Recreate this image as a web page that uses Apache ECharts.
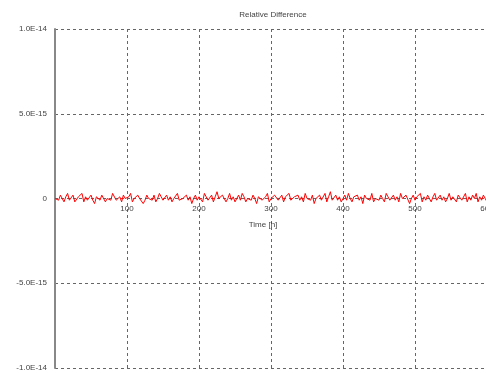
<!DOCTYPE html>
<html><head><meta charset="utf-8">
<script src="https://cdn.jsdelivr.net/npm/echarts@6/dist/echarts.min.js"></script>
<style>html,body{margin:0;padding:0;background:#fff}#c{width:486px;height:373px}</style>
</head><body><div id="c"></div>
<script>
const titleText = "Relative Difference";
const xName = "Time [h]";
const xTicks = [0, 100, 200, 300, 400, 500, 600];
const yTicks = [-1e-14, -5e-15, 0, 5e-15, 1e-14];
const yTickLabels = ["-1.0E-14", "-5.0E-15", "0", "5.0E-15", "1.0E-14"];
const timeStep = 2.5;
// relative difference in units of 1e-16, one value every 2.5 h
const diffE16 = [
 0,1,-1,2,0,-2,1,3,-1,0,2,-2,-1,1,0,3,-2,1,-1,0,
 2,-1,-3,1,0,-1,2,1,-2,0,1,-1,3,2,-1,0,1,-2,2,0,
 -1,1,3,-2,0,-1,2,0,1,-3,-1,2,0,1,-1,2,-2,0,3,1,
 -1,0,2,-1,1,-2,0,1,3,-1,-2,0,1,2,-1,1,-3,0,2,-1,
 1,0,-2,3,1,-1,0,2,-2,1,4,0,-1,2,1,-2,0,3,-1,1,
 -2,0,2,-1,3,1,-2,0,1,-1,2,0,-3,1,2,-1,0,1,3,-2,
 0,-1,2,1,-1,0,2,-2,1,0,3,-1,-2,1,0,2,-1,1,-2,3,
 0,1,-1,2,-3,0,1,2,-1,0,3,-2,1,4,-1,0,2,-1,1,-2,
 0,2,-1,3,0,-2,1,0,2,-1,1,-3,2,0,1,-1,3,-2,0,1,
 -1,2,0,-2,3,1,-1,0,2,-1,1,-2,3,0,-1,2,1,-3,0,2,
 -1,1,0,3,-2,1,-1,2,0,-2,1,3,-1,0,2,-1,1,-2,0,3,
 -1,1,0,-2,2,1,-1,0,3,-2,1,-1,2,0,3,-2,1,-1,2,0,
 -2,1
];
const seriesData = diffE16.map((v, i) => [i * timeStep, v * 1e-16]);

const chart = echarts.init(document.getElementById('c'));
const gridLine = {show: true, lineStyle: {color: '#666', type: [3, 3], width: 1}};
chart.setOption({
  animation: false,
  title: {text: titleText, left: 268, top: 6, textAlign: 'center',
    textStyle: {fontFamily: 'Liberation Sans', fontSize: 8, fontWeight: 'normal', color: '#444'}},
  grid: {left: 55, top: 29, right: -1, bottom: 5, containLabel: false, outerBoundsMode: 'none'},
  xAxis: {
    type: 'value', position: 'bottom', offset: -169.5,
    min: xTicks[0], max: xTicks[xTicks.length - 1], interval: 100,
    name: xName, nameLocation: 'middle', nameGap: 22,
    nameTextStyle: {fontFamily: 'Liberation Sans', fontSize: 8, color: '#444', padding: [0, 16, 0, 0]},
    axisLine: {show: false, onZero: false}, axisTick: {show: false},
    axisLabel: {show: true, fontFamily: 'Liberation Sans', fontSize: 8, color: '#444', margin: 6,
      hideOverlap: false, formatter: v => v === 0 ? '' : String(v)},
    splitLine: gridLine
  },
  yAxis: {
    type: 'value', min: yTicks[0], max: yTicks[yTicks.length - 1], interval: 5e-15,
    axisLine: {show: true, onZero: false, lineStyle: {color: '#888', width: 2}}, axisTick: {show: false},
    axisLabel: {fontFamily: 'Liberation Sans', fontSize: 8, color: '#444', margin: 8,
      formatter: v => { const i = yTicks.findIndex(t => Math.abs(t - v) < 1e-20); return i >= 0 ? yTickLabels[i] : ''; }},
    splitLine: gridLine
  },
  series: [{type: 'line', data: seriesData, showSymbol: false, lineStyle: {color: '#ff0000', width: 1}}]
});
</script></body></html>
